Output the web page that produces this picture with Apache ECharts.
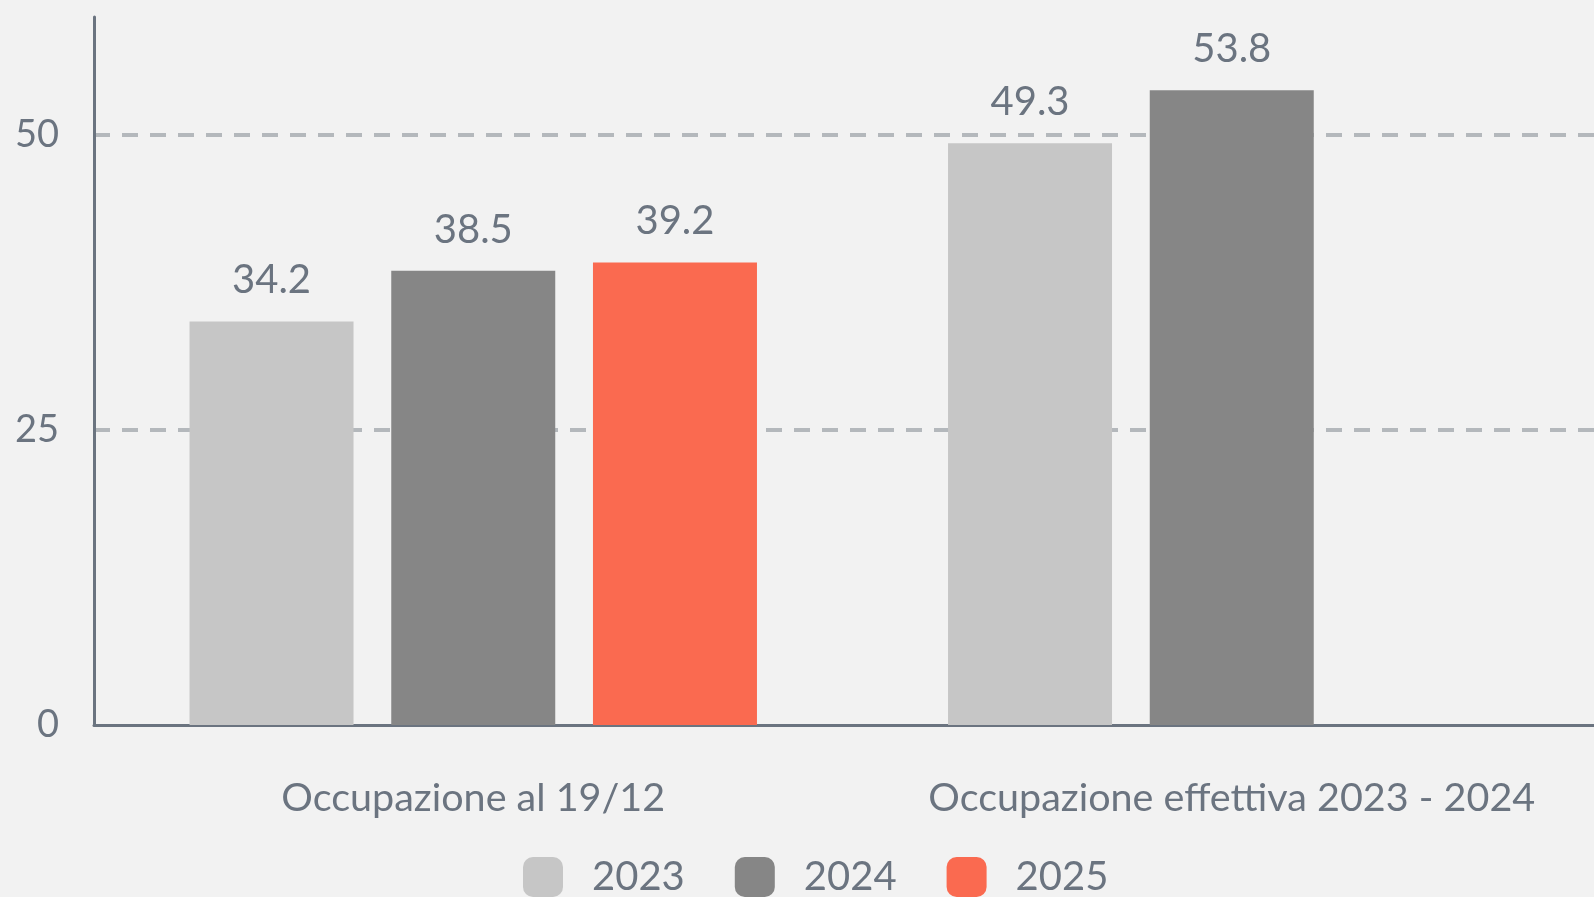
<!DOCTYPE html>
<html>
<head>
<meta charset="utf-8">
<script src="https://cdn.jsdelivr.net/npm/echarts@6/dist/echarts.min.js"></script>
<style>
  html, body { margin: 0; padding: 0; background: #f2f2f2; }
  #chart { width: 1594px; height: 897px; }
</style>
</head>
<body>
<div id="chart"></div>
<script>
const categories = ['Occupazione al 19/12', 'Occupazione effettiva 2023 - 2024'];
const years = ['2023', '2024', '2025'];
const values2023 = [34.2, 49.3];
const values2024 = [38.5, 53.8];
const values2025 = [39.2, null];
const yTicks = [0, 25, 50];

const TEXT = '#6b7480';
const colors = ['#c6c6c6', '#868686', '#fa6a50'];
const seriesData = [values2023, values2024, values2025];

const chart = echarts.init(document.getElementById('chart'));

const series = years.map(function (y, i) {
  return {
    name: y,
    type: 'bar',
    data: seriesData[i],
    barWidth: 164,
    barGap: '23%',
    itemStyle: { color: colors[i] },
    label: {
      show: true,
      position: 'top',
      distance: 21,
      color: TEXT,
      fontFamily: 'Lato',
      fontSize: 40
    }
  };
});

chart.setOption({
  backgroundColor: '#f2f2f2',
  animation: false,
  textStyle: { fontFamily: 'Lato' },
  grid: {
    left: 94, width: 1517, top: 17, bottom: 172,
    containLabel: false, outerBoundsMode: 'none'
  },
  legend: {
    data: years.map(function (y, i) {
      return { name: y, itemStyle: { color: colors[i] } };
    }),
    left: 518,
    top: 852,
    icon: 'roundRect',
    itemWidth: 40,
    itemHeight: 40,
    itemGap: 50,
    textStyle: { color: TEXT, fontSize: 40, fontFamily: 'Lato', padding: [0, 0, 0, 24] }
  },
  xAxis: {
    type: 'category',
    data: categories,
    axisLine: { show: true, lineStyle: { color: TEXT, width: 3 } },
    axisTick: { show: false },
    axisLabel: { color: TEXT, fontSize: 39.5, fontFamily: 'Lato', margin: 53, interval: 0 }
  },
  yAxis: {
    type: 'value',
    min: 0,
    max: 60,
    interval: 25,
    axisLine: { show: true, lineStyle: { color: TEXT, width: 3 } },
    axisTick: { show: false },
    axisLabel: {
      color: TEXT,
      fontSize: 38,
      fontFamily: 'Lato',
      margin: 35,
      showMaxLabel: false,
      formatter: function (v) { return yTicks.indexOf(v) >= 0 ? String(v) : ''; }
    },
    splitLine: {
      show: true,
      showMinLine: false,
      showMaxLine: false,
      lineStyle: { color: '#b4b8bc', width: 4, type: [16, 12] }
    }
  },
  series: series
});
</script>
</body>
</html>
